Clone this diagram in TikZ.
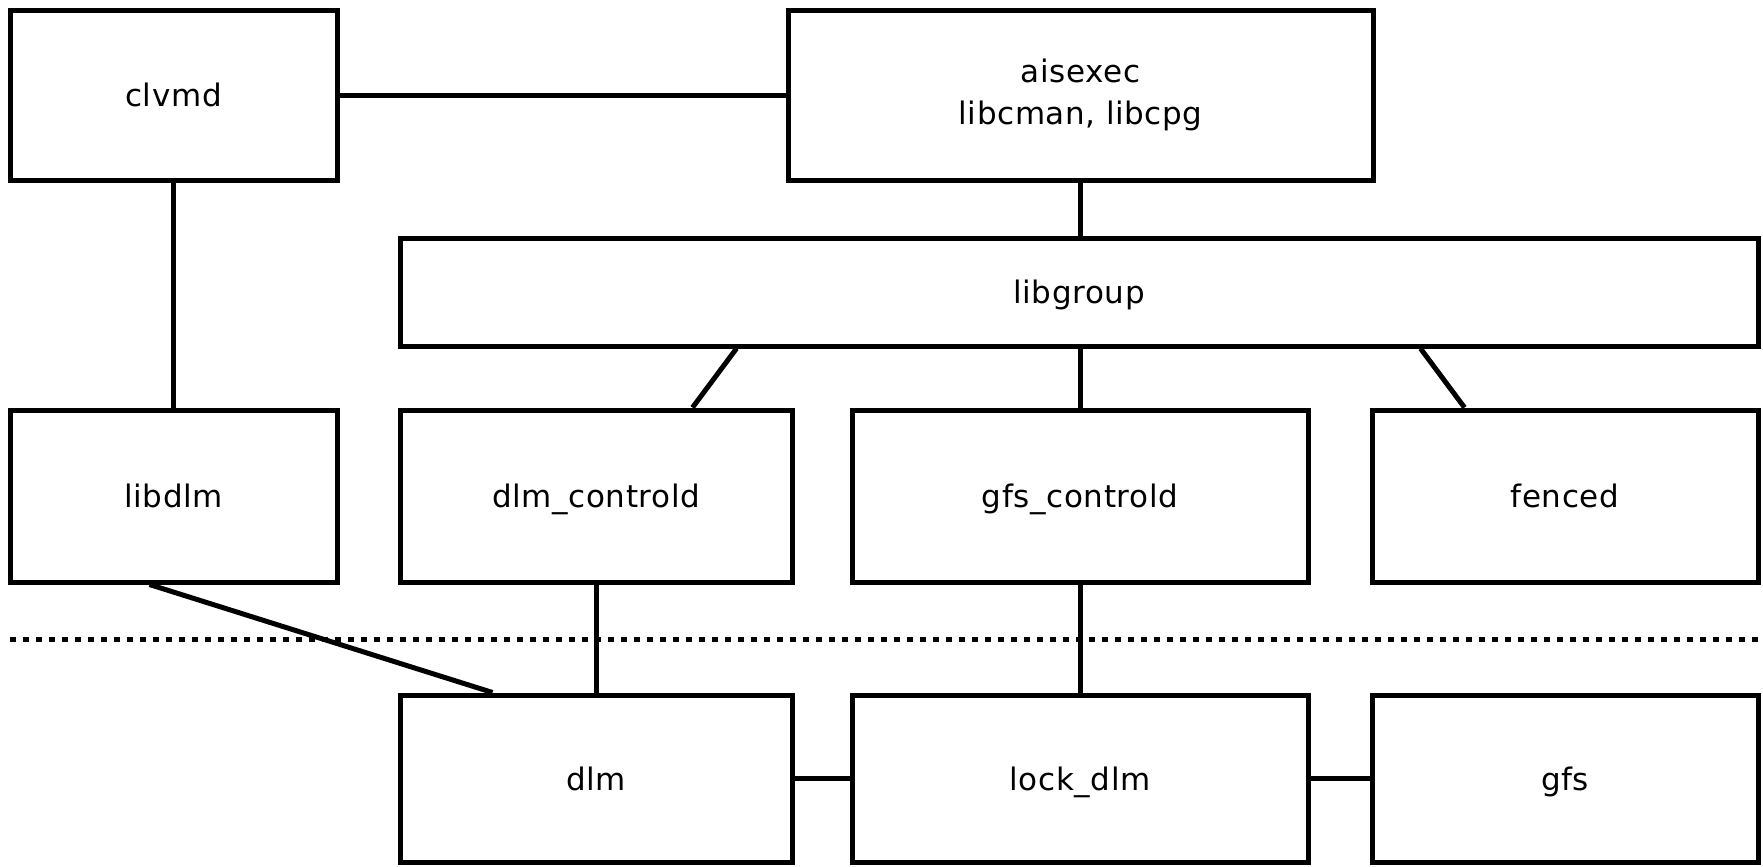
\documentclass[tikz,border=0pt]{standalone}
\usepackage{fontspec}
\setmainfont{DejaVu Sans}[LetterSpace=2]
\usetikzlibrary{calc}
\begin{document}
\begin{tikzpicture}[x=0.5pt,y=-0.5pt,
  box/.style={draw,line width=2.5pt,inner sep=0pt,align=center,
    font=\fontsize{15.5}{21}\selectfont},
  one/.style={text height=11.6pt,text depth=0pt},
  conn/.style={line width=2.5pt},
  sep/.style={line width=2.5pt,dash pattern=on 3pt off 3.5pt}]
\useasboundingbox (0,0) rectangle (1763,867);
% top row
\node[box,one,minimum width=163.5pt,minimum height=85pt] (clvmd) at (173.5,95) {clvmd};
\node[box,minimum width=292.5pt,minimum height=85pt] (aisexec) at (1080.5,95) {aisexec\\libcman, libcpg};
% libgroup
\node[box,one,minimum width=679pt,minimum height=54pt] (libgroup) at (1079,292) {libgroup};
% middle row
\node[box,one,minimum width=163.5pt,minimum height=86pt] (libdlm) at (173.5,496) {libdlm};
\node[box,one,minimum width=196pt,minimum height=86pt] (dlmc) at (596,496) {dlm\_controld};
\node[box,one,minimum width=228pt,minimum height=86pt] (gfsc) at (1080,496) {gfs\_controld};
\node[box,one,minimum width=193pt,minimum height=86pt] (fenced) at (1565,496) {fenced};
% bottom row
\node[box,one,minimum width=196pt,minimum height=83.5pt] (dlm) at (596,778.5) {dlm};
\node[box,one,minimum width=228pt,minimum height=83.5pt] (lockdlm) at (1080,778.5) {lock\_dlm};
\node[box,one,minimum width=193pt,minimum height=83.5pt] (gfs) at (1565,778.5) {gfs};
% separator
\coordinate (sepl) at (10,639);
\coordinate (sepr) at (1760,639);
\draw[sep] (sepl) -- (sepr);
% connectors
\draw[conn] (clvmd.east) -- (aisexec.west);
\draw[conn] (clvmd.south) -- (libdlm.north);
\draw[conn] (aisexec.south) -- (aisexec.south |- libgroup.north);
\draw[conn] ($(libgroup.south west)+(339,0)$) -- ($(dlmc.north west)+(295,0)$);
\draw[conn] (libgroup.south -| gfsc.north) -- (gfsc.north);
\draw[conn] ($(libgroup.south west)+(1023,0)$) -- ($(fenced.north west)+(95,0)$);
\draw[conn] (dlmc.south) -- (dlm.north);
\draw[conn] (gfsc.south) -- (lockdlm.north);
\draw[conn] ($(libdlm.south west)+(142,0)$) -- ($(dlm.north west)+(95,0)$);
\draw[conn] (dlm.east) -- (lockdlm.west);
\draw[conn] (lockdlm.east) -- (gfs.west);
\end{tikzpicture}
\end{document}
